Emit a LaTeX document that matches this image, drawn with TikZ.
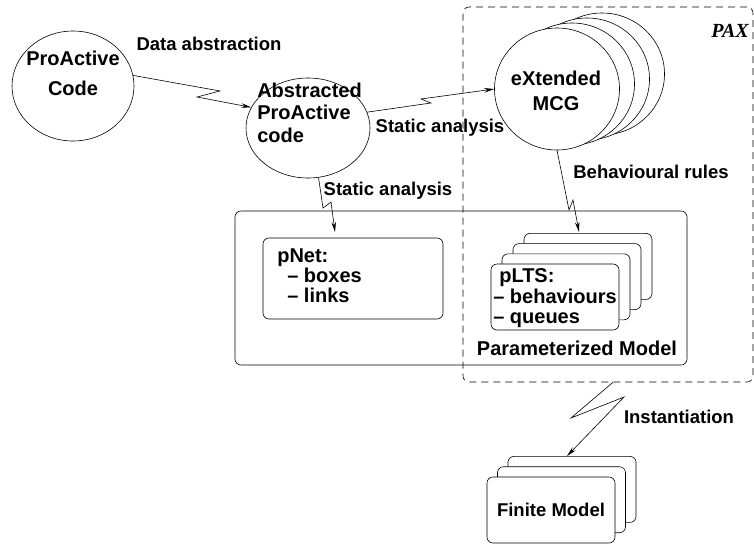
\documentclass[tikz,border=0pt]{standalone}
\usepackage{fontspec}
\setmainfont{Liberation Sans}
\newfontfamily\paxfont{Liberation Serif}
\usetikzlibrary{arrows.meta, shapes.geometric}

\begin{document}
\begin{tikzpicture}[
  x=1pt, y=-1pt,
  line width=0.6pt,
  font=\fontsize{20}{22.5}\selectfont\bfseries,
  >={Stealth[length=10pt, width=4.5pt]},
  bubble/.style={draw, ellipse, fill=white, inner sep=0pt},
  txt/.style={inner sep=0pt, align=left},
  lbl/.style={inner sep=0pt, anchor=base, font=\fontsize{18.5}{22}\selectfont\bfseries},
  card/.style={draw, fill=white, rounded corners=6pt, minimum width=128pt, minimum height=66pt, inner sep=0pt},
  arr/.style={->, line width=0.6pt}
]
\useasboundingbox (0,0) rectangle (754,544);

% PAX region and the parameterized model
\node[draw, dash pattern=on 7pt off 5pt, rounded corners=6pt, minimum width=290pt, minimum height=375pt] (pax) at (608,194.5) {};
\node[font=\paxfont\fontsize{20}{24}\selectfont\bfseries\itshape, anchor=base, inner sep=0pt] (paxlbl) at (730,37) {PAX};
\node[draw, rounded corners=6pt, minimum width=452pt, minimum height=154pt] (pm) at (461,288) {};
\node[draw, rounded corners=6pt, minimum width=180pt, minimum height=81pt] (pnet) at (353,278.5) {};
\node[txt, anchor=north west, font=\fontsize{20}{20}\selectfont\bfseries] (pnettxt) at (277,248.7) {pNet:\\\hspace{10pt}-- boxes\\\hspace{10pt}-- links};

\foreach \k in {3,2,1}
  \node[card] (plts\k) at (555+11*\k, 297-10.2*\k) {};
\node[card] (plts) at (555,297) {};
\node[txt, anchor=north west, font=\fontsize{20}{20.5}\selectfont\bfseries] (pltstxt) at (493,268.7) {\hspace{6pt}pLTS:\\-- behaviours\\-- queues};
\node[lbl, font=\fontsize{20}{24}\selectfont\bfseries] (pmlbl) at (577,355) {Parameterized Model};

% finite model
\foreach \k in {2,1}
  \node[card] (fin\k) at (551+10.5*\k, 510-10.3*\k) {};
\node[card, font=\fontsize{18.5}{22}\selectfont\bfseries] (fin) at (551,510) {Finite Model};

% code and MCG
\node[bubble, minimum width=122pt, minimum height=110pt] (pac) at (73,86) {};
\node[txt, align=center, anchor=north, font=\fontsize{20}{30}\selectfont\bfseries] (pactxt) at (73,50.5) {ProActive\\Code};
\node[bubble, minimum width=124pt, minimum height=100pt] (abs) at (308,128) {};
\node[txt, anchor=north west] (abstxt) at (257,82.4) {Abstracted\\ProActive\\code};
\foreach \k in {3,2,1}
  \node[bubble, minimum width=125pt, minimum height=122pt] (mcg\k) at (557+15*\k, 89-5*\k) {};
\node[bubble, minimum width=125pt, minimum height=122pt] (mcg) at (557,89) {};
\node[txt, align=center, anchor=north, font=\fontsize{20}{25}\selectfont\bfseries] (mcgtxt) at (556,70.4) {eXtended\\MCG};

% labels
\node[lbl] (dalbl) at (209,50) {Data abstraction};
\node[lbl] (sa1lbl) at (440,132) {Static analysis};
\node[lbl] (sa2lbl) at (388,195) {Static analysis};
\node[lbl] (brlbl) at (651,178) {Behavioural rules};
\node[lbl] (instlbl) at (679,423) {Instantiation};

% connectors
\coordinate (pnetin) at (335,232);
\coordinate (pltsin) at (579,232);
\draw[arr] (pac.10) -- (220,91) -- (197,97) -- (abs.160);
\draw[arr] (abs.15) -- (431,103) -- (421,99) -- (mcg.west);
\draw[arr] (abs.-78) -- (323,208) -- (331,202) -- (pnetin);
\draw[arr] (mcg.south) -- (569,210) -- (573,200) -- (pltsin);
\draw[arr] ([xshift=5pt]pax.south) -- (571,418) -- (624,397) -- ([xshift=-5pt]fin2.north);
\end{tikzpicture}
\end{document}
